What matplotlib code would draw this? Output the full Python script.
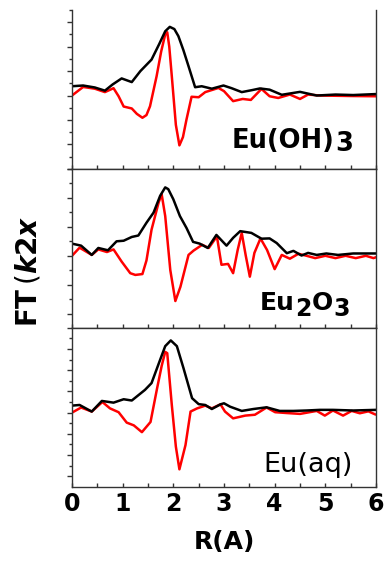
import matplotlib
matplotlib.use('Agg')
import matplotlib.pyplot as plt
from matplotlib.ticker import MultipleLocator

# R (A) and FT(k2x) values, one pair of curves per panel
r_oh_black = [0, 0.22, 0.45, 0.65, 0.8, 0.98, 1.18, 1.35, 1.57, 1.72, 1.84, 1.93, 2.02, 2.1, 2.2, 2.3,
              2.43, 2.56, 2.76, 2.99, 3.15, 3.35, 3.55, 3.71, 3.9, 4.14, 4.5, 4.83, 5.2, 5.55, 6.0]
v_oh_black = [0.38, 0.41, 0.33, 0.2, 0.45, 0.70, 0.55, 1.0, 1.47, 2.1, 2.63, 2.81, 2.72, 2.43, 1.85, 1.2,
              0.34, 0.38, 0.28, 0.41, 0.3, 0.14, 0.22, 0.29, 0.24, 0.03, 0.15, 0.0, 0.04, 0.02, 0.06]
r_oh_red = [0, 0.22, 0.45, 0.65, 0.82, 0.92, 1.02, 1.18, 1.28, 1.39, 1.47, 1.54, 1.67, 1.76, 1.84, 1.88,
            1.92, 1.97, 2.05, 2.12, 2.19, 2.26, 2.36, 2.5, 2.63, 2.89, 3.0, 3.18, 3.37, 3.53, 3.74, 3.9,
            4.07, 4.3, 4.5, 4.66, 4.9, 5.5, 6.0]
v_oh_red = [0, 0.35, 0.28, 0.14, 0.3, -0.03, -0.45, -0.53, -0.75, -0.91, -0.8, -0.44, 0.79, 1.8, 2.5, 2.59,
            2.0, 0.79, -1.2, -2.04, -1.7, -0.98, -0.05, -0.07, 0.14, 0.31, 0.18, -0.23, -0.14, -0.18, 0.27, -0.03,
            -0.1, 0.04, -0.14, 0.04, 0.0, -0.02, -0.03]

r_ox_black = [0, 0.18, 0.39, 0.52, 0.71, 0.88, 1.02, 1.18, 1.31, 1.47, 1.61, 1.74, 1.84, 1.9, 2.0, 2.13,
              2.26, 2.39, 2.52, 2.68, 2.85, 3.05, 3.18, 3.32, 3.54, 3.74, 3.9, 4.04, 4.24, 4.37, 4.53, 4.66,
              4.83, 5.02, 5.25, 5.55, 6.0]
v_ox_black = [0.42, 0.35, 0.03, 0.27, 0.19, 0.5, 0.52, 0.65, 0.70, 1.14, 1.49, 2.07, 2.36, 2.30, 1.95, 1.37,
              0.96, 0.48, 0.42, 0.27, 0.72, 0.35, 0.62, 0.85, 0.79, 0.59, 0.6, 0.44, 0.09, 0.17, 0.01, 0.1,
              0.03, 0.08, 0.03, 0.08, 0.08]
r_ox_red = [0, 0.15, 0.39, 0.52, 0.69, 0.82, 0.98, 1.15, 1.25, 1.39, 1.47, 1.57, 1.71, 1.77, 1.84, 1.94,
            2.04, 2.14, 2.3, 2.4, 2.57, 2.7, 2.86, 2.95, 3.08, 3.18, 3.27, 3.35, 3.43, 3.51, 3.6, 3.72,
            3.85, 4.0, 4.14, 4.3, 4.47, 4.63, 4.8, 5.0, 5.2, 5.4, 5.6, 5.8, 5.95, 6.0]
v_ox_red = [0, 0.28, 0.03, 0.22, 0.13, 0.22, -0.2, -0.6, -0.66, -0.63, -0.16, 0.9, 1.84, 2.12, 1.37, -0.49,
            -1.56, -1.07, 0.03, 0.18, 0.38, 0.27, 0.67, -0.31, -0.28, -0.6, 0.2, 0.79, 0.0, -0.72, 0.1, 0.6,
            0.2, -0.46, 0.03, -0.1, 0.07, 0.0, -0.08, 0.0, -0.08, 0.0, -0.08, 0.0, -0.08, -0.05]

r_aq_black = [0, 0.15, 0.39, 0.59, 0.82, 1.02, 1.18, 1.44, 1.57, 1.74, 1.84, 1.95, 2.07, 2.2, 2.37, 2.5,
              2.63, 2.76, 2.93, 3.0, 3.12, 3.35, 3.58, 3.84, 4.1, 4.37, 4.63, 4.89, 5.15, 5.55, 6.0]
v_aq_black = [0.33, 0.36, 0.05, 0.55, 0.47, 0.63, 0.57, 1.07, 1.39, 2.49, 3.13, 3.4, 3.13, 2.1, 0.68, 0.4,
              0.36, 0.17, 0.39, 0.44, 0.28, 0.08, 0.17, 0.25, 0.08, 0.08, 0.1, 0.13, 0.13, 0.1, 0.13]
r_aq_red = [0, 0.18, 0.39, 0.6, 0.75, 0.92, 1.08, 1.22, 1.38, 1.55, 1.68, 1.77, 1.84, 1.88, 1.97, 2.05,
            2.12, 2.24, 2.34, 2.47, 2.63, 2.76, 2.93, 3.02, 3.18, 3.42, 3.61, 3.84, 4.01, 4.24, 4.5, 4.83,
            4.99, 5.15, 5.35, 5.52, 5.68, 5.85, 5.98]
v_aq_red = [0, 0.24, 0.05, 0.5, 0.2, 0.02, -0.47, -0.6, -0.92, -0.44, 1.15, 2.2, 2.86, 2.8, 0.36, -1.6,
            -2.67, -1.53, 0.05, 0.2, 0.33, 0.2, 0.39, 0.05, -0.27, -0.14, -0.1, 0.24, 0.02, -0.02, -0.06, 0.08,
            -0.14, 0.1, -0.14, 0.08, -0.03, 0.06, -0.08]

ylims = [(-3.0, 3.5), (-2.48, 3.0), (-3.48, 4.0)]
x_ticks = [0, 1, 2, 3, 4, 5, 6]

SPINE = '#333333'

fig = plt.figure(figsize=(3.87, 5.65), dpi=100)
gs = fig.add_gridspec(3, 1, left=0.186, right=0.9716, top=1 - 10 / 565, bottom=0.1389, hspace=0)
axes = [fig.add_subplot(gs[i]) for i in range(3)]

curves = [(r_oh_black, v_oh_black, r_oh_red, v_oh_red),
          (r_ox_black, v_ox_black, r_ox_red, v_ox_red),
          (r_aq_black, v_aq_black, r_aq_red, v_aq_red)]

for ax, (rb, vb, rr, vr), yl in zip(axes, curves, ylims):
    ax.plot(rr, vr, color='#ff0000', lw=1.8, solid_joinstyle='round')
    ax.plot(rb, vb, color='black', lw=1.8, solid_joinstyle='round')
    ax.set_xlim(0, 6)
    ax.set_ylim(*yl)
    ax.xaxis.set_major_locator(MultipleLocator(1))
    ax.xaxis.set_minor_locator(MultipleLocator(0.5))
    ax.yaxis.set_major_locator(MultipleLocator(1))
    ax.yaxis.set_minor_locator(MultipleLocator(0.5))
    ax.tick_params(axis='x', which='both', direction='in', length=3, width=1, color=SPINE)
    ax.tick_params(axis='y', which='major', direction='out', length=3.5, width=1, color=SPINE)
    ax.tick_params(axis='y', which='minor', direction='out', length=2, width=1, color=SPINE)
    ax.set_yticklabels([])
    for s in ax.spines.values():
        s.set_color(SPINE)
        s.set_linewidth(1.0)

axes[0].spines['top'].set_visible(False)
for ax in axes[:2]:
    ax.tick_params(axis='x', labelbottom=False)

axes[2].set_xticks(x_ticks)
axes[2].set_xticklabels([str(t) for t in x_ticks], fontsize=17, fontweight='bold')
axes[2].tick_params(axis='x', pad=4)
axes[2].set_xlabel('R(A)', fontsize=18, fontweight='bold', labelpad=10)

# panel labels, digits set slightly low like the original
t1 = axes[0].text(0.526, 0.13, 'Eu(OH)', transform=axes[0].transAxes, fontsize=18.5,
                  fontweight='bold', ha='left', va='baseline')
axes[0].annotate('3', xy=(1, 0), xycoords=t1, xytext=(0.3, -2), textcoords='offset points',
                 fontsize=18.5, fontweight='bold', ha='left', va='bottom')

t2 = axes[1].text(0.618, 0.111, 'Eu', transform=axes[1].transAxes, fontsize=18,
                  fontweight='bold', ha='left', va='baseline')
t3 = axes[1].annotate('2', xy=(1, 0), xycoords=t2, xytext=(0.3, -4), textcoords='offset points',
                      fontsize=17, fontweight='bold', ha='left', va='bottom')
t4 = axes[1].annotate('O', xy=(1, 0), xycoords=t3, xytext=(0.3, 4), textcoords='offset points',
                      fontsize=18, fontweight='bold', ha='left', va='bottom')
axes[1].annotate('3', xy=(1, 0), xycoords=t4, xytext=(0.3, -4), textcoords='offset points',
                 fontsize=17, fontweight='bold', ha='left', va='bottom')

axes[2].text(0.629, 0.093, 'Eu(aq)', transform=axes[2].transAxes, fontsize=19.5,
             ha='left', va='baseline')

fig.text(0.072, 0.52, r'$\mathbf{FT}\,(\mathbfit{k}\mathbf{2}\mathbfit{x}$', rotation=90,
         fontsize=20, ha='center', va='center')

fig.savefig('out.png', dpi=100)
plt.close(fig)
